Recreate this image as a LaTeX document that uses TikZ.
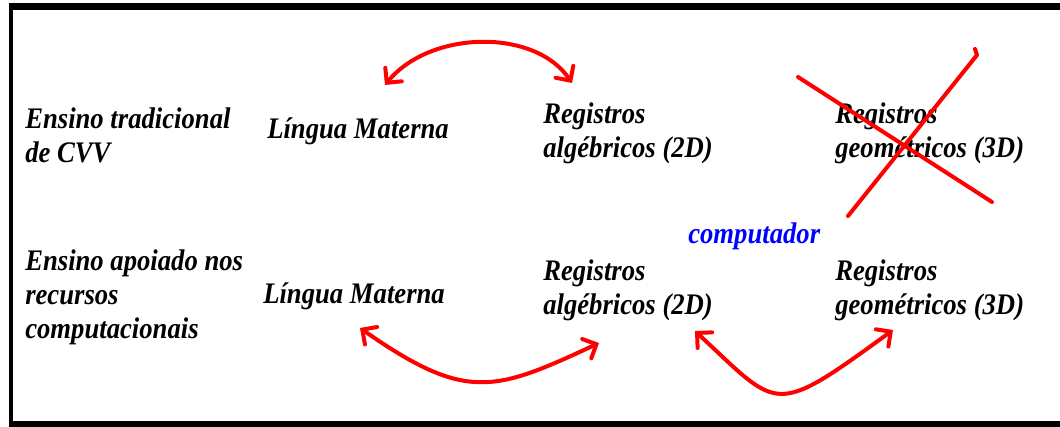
\documentclass[tikz,border=0pt]{standalone}
\usepackage{graphicx}
\usepackage{fontspec}
\setmainfont{Liberation Serif}
\usetikzlibrary{arrows.meta}
\newcommand\vstr[1]{\scalebox{1}[1.12]{#1}}
\tikzset{
  lbl/.style={font=\bfseries\itshape\fontsize{20}{25.5}\selectfont, inner sep=0pt, anchor=base west, align=left},
  blu/.style={lbl, text={rgb,255:red,0;green,0;blue,255}},
  redline/.style={draw=red, line width=3pt, line cap=round, line join=round},
  harrow/.style={redline, {Straight Barb[length=8pt,width=16pt,line cap=round]}-{Straight Barb[length=8pt,width=16pt,line cap=round]}},
  frame/.style={fill=black, draw=none}
}
\begin{document}
\begin{tikzpicture}[x=0.75pt,y=-0.75pt]
\useasboundingbox (0,0) rectangle (1060,427);
% frame
\fill[frame] (9,3) rectangle (1060,10);
\fill[frame] (9,3) rectangle (13,427);
\fill[frame] (9,421) rectangle (1060,427);
% row 1 (anchor = baseline of last line)
\node[lbl] (e1) at (25,163) {\vstr{Ensino tradicional}\\\vstr{de CVV}};
\node[lbl] (lm1) at (267,139) {\vstr{Língua Materna}};
\node[lbl] (ra1) at (543,158) {\vstr{Registros}\\\vstr{algébricos (2D)}};
\node[lbl] (rg1) at (835,158) {\vstr{Registros}\\\vstr{geométricos (3D)}};
% row 2
\node[lbl] (e2) at (25,339) {\vstr{Ensino apoiado nos}\\\vstr{recursos}\\\vstr{computacionais}};
\node[lbl] (lm2) at (263,304) {\vstr{Língua Materna}};
\node[lbl] (ra2) at (543,315) {\vstr{Registros}\\\vstr{algébricos (2D)}};
\node[lbl] (rg2) at (835,315) {\vstr{Registros}\\\vstr{geométricos (3D)}};
\node[blu] (comp) at (688,244) {\vstr{computador}};
% arrow endpoints
\coordinate (a1s) at (385,85);
\coordinate (a1e) at (572,83);
\coordinate (a2s) at (360,328);
\coordinate (a2e) at (599,343);
\coordinate (a3s) at (695,331);
\coordinate (a3e) at (893,330);
\draw[harrow] (a1s) .. controls (430,30) and (535,28) .. (a1e);
\draw[harrow] (a2s) .. controls (466,402) and (494,392) .. (a2e);
\draw[harrow] (a3s) .. controls (780,410) and (772,418) .. (a3e);
% cross
\coordinate (x1a) at (798,77);
\coordinate (x1b) at (992,202);
\coordinate (x2a) at (848,216);
\coordinate (x2b) at (977,55);
\coordinate (x2c) at (975,49);
\draw[redline] (x1a) -- (x1b);
\draw[redline] (x2a) -- (x2b) -- (x2c);
\end{tikzpicture}
\end{document}
